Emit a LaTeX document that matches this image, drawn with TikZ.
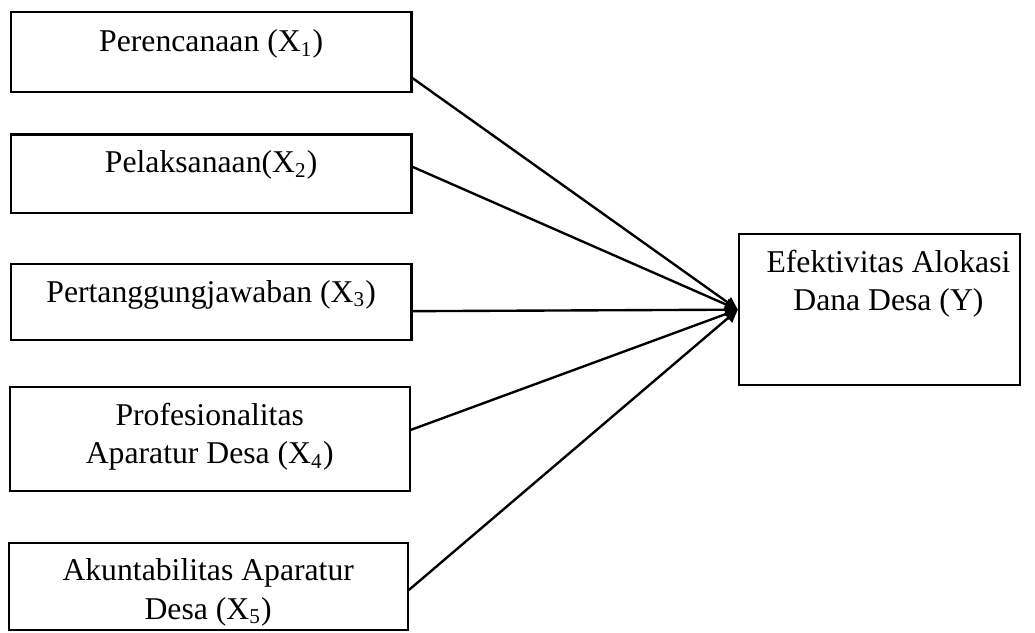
\documentclass[tikz,border=0pt]{standalone}
\usepackage{fontspec}
\setmainfont{Liberation Serif}
\usetikzlibrary{arrows.meta}

\begin{document}
\begin{tikzpicture}[
  box/.style={draw, line width=0.8pt, inner sep=0pt},
  txt/.style={anchor=base, align=center, inner sep=0pt, font=\fontsize{12}{14.5}\selectfont},
  e/.style={-{Triangle[length=1.7mm, width=1.6mm]}, line width=0.9pt}
]
\useasboundingbox (0,0) rectangle (13.77,-8.41);

\node[box, minimum width=5.33cm, minimum height=1.06cm] (x1) at (2.81,-0.69) {};
\node[box, minimum width=5.33cm, minimum height=1.04cm] (x2) at (2.81,-2.31) {};
\node[box, minimum width=5.33cm, minimum height=1.01cm] (x3) at (2.81,-4.02) {};
\node[box, minimum width=5.32cm, minimum height=1.38cm] (x4) at (2.79,-5.84) {};
\node[box, minimum width=5.31cm, minimum height=1.16cm] (x5) at (2.77,-7.80) {};
\node[box, minimum width=3.74cm, minimum height=2.01cm] (y) at (11.70,-4.12) {};

% base anchor sits on the last line
\node[txt] (t1) at ([yshift=-0.54cm]x1.north) {Perencanaan (X\textsubscript{1})};
\node[txt] (t2) at ([yshift=-0.52cm]x2.north) {Pelaksanaan(X\textsubscript{2})};
\node[txt] (t3) at ([yshift=-0.52cm]x3.north) {Pertanggungjawaban (X\textsubscript{3})};
\node[txt] (t4) at ([yshift=-1.03cm]x4.north) {Profesionalitas\\Aparatur Desa (X\textsubscript{4})};
\node[txt] (t5) at ([yshift=-1.03cm]x5.north) {Akuntabilitas Aparatur\\Desa (X\textsubscript{5})};
\node[txt] (ty) at ([xshift=0.12cm, yshift=-1.03cm]y.north) {Efektivitas Alokasi\\Dana Desa (Y)};

\draw[e] ([yshift=-0.35cm]x1.east) -- (y.west);
\draw[e] ([yshift=0.09cm]x2.east) -- (y.west);
\draw[e] ([yshift=-0.12cm]x3.east) -- (y.west);
\draw[e] ([yshift=0.12cm]x4.east) -- (y.west);
\draw[e] ([yshift=-0.05cm]x5.east) -- (y.west);
\end{tikzpicture}
\end{document}
